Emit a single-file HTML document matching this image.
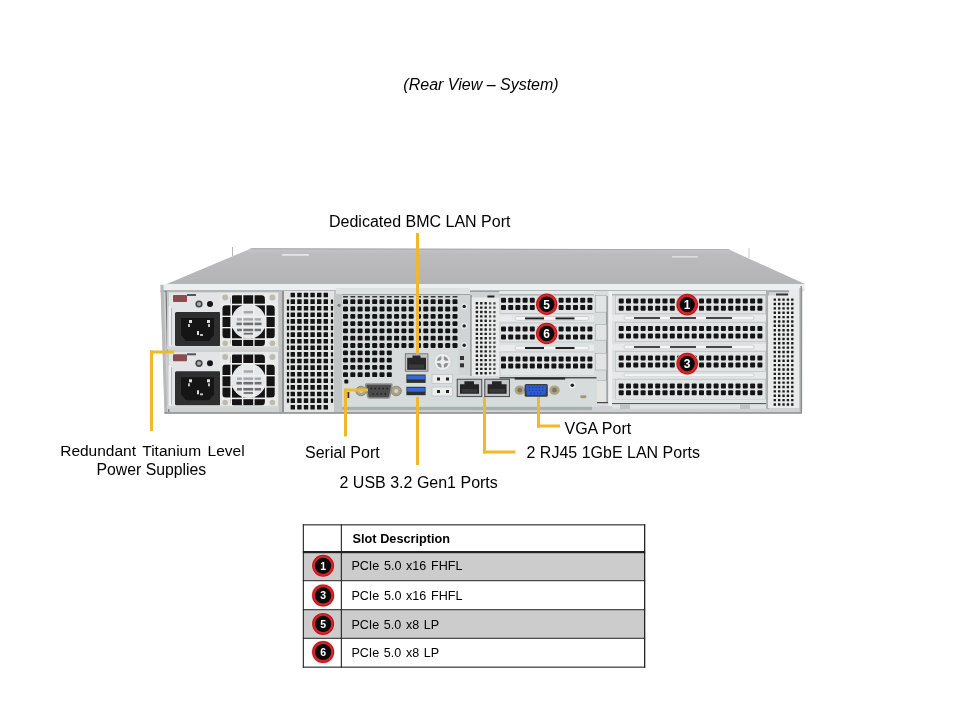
<!DOCTYPE html>
<html><head><meta charset="utf-8"><title>Rear View</title><style>
html,body{margin:0;padding:0;background:#fff;width:960px;height:720px;overflow:hidden}
svg{display:block;position:absolute;left:0;top:0;will-change:transform}
text{font-family:"Liberation Sans",sans-serif;fill:#000}
</style></head><body>
<svg width="960" height="720" viewBox="0 0 960 720">
<defs>
  <linearGradient id="gTop" x1="0" y1="0" x2="0" y2="1">
    <stop offset="0" stop-color="#c4c4c6"/><stop offset="0.18" stop-color="#bbbbbd"/><stop offset="1" stop-color="#b4b4b6"/>
  </linearGradient>
</defs>

<polygon points="251,248.5 729,249.5 805,284 162,286" fill="url(#gTop)"/>
<rect x="232" y="247" width="1" height="9" fill="#b5b5b5"/><rect x="748.5" y="248" width="1" height="10" fill="#c8c8c8"/>
<polygon points="251,248.3 729,249.3 730,250 250,249.3" fill="#a4a4a6"/>
<rect x="282" y="254" width="27" height="1.8" fill="#e4e4e4"/>
<rect x="672" y="256" width="26" height="1.6" fill="#dcdcdc"/>
<polygon points="160.5,285 802.5,285 802,413.6 164.5,413.8" fill="#cfd2d2"/>
<rect x="160.5" y="284" width="644.5" height="6.5" fill="#eceff0"/>
<rect x="160.5" y="290.5" width="644" height="1.2" fill="#8a8c8c"/>
<polygon points="160.5,285 163.5,285 167.3,413.8 164.5,413.8" fill="#b8baba"/>
<polygon points="165.5,291 166.7,291 169.4,412 168.2,412" fill="#777"/>
<g id="psu">
  <rect x="167" y="291.5" width="112" height="58" fill="#c9cbcb"/>
  <rect x="169" y="292.5" width="52" height="55" fill="#e2e4e6"/>
  <rect x="168.6" y="306" width="2.6" height="41" rx="1.2" fill="#f0f1f1"/><rect x="171.2" y="308" width="0.8" height="37" fill="#a5a8a8"/>
  <rect x="173" y="295" width="14" height="7" rx="1" fill="#8c4c4f"/>
  <rect x="187" y="294" width="9" height="2" fill="#555"/>
  <circle cx="199" cy="304" r="3.6" fill="#444"/><circle cx="199" cy="304" r="2" fill="#a9a9a9"/>
  <circle cx="210" cy="304" r="3" fill="#151515"/>
  <rect x="175" y="312" width="45.5" height="34" rx="1.5" fill="#2e2e2e"/>
  <path d="M181,318 H214 V335 L209,341 H186 L181,335 Z" fill="#151515"/>
  <rect x="189" y="320" width="3" height="3" fill="#ddd"/><rect x="188" y="324" width="2" height="3" fill="#bbb"/>
  <rect x="207" y="320" width="3" height="3" fill="#ddd"/><rect x="208" y="324" width="2" height="3" fill="#bbb"/>
  <rect x="197" y="331" width="2" height="4" fill="#ddd"/><rect x="200" y="334" width="3" height="2" fill="#bbb"/>
  <rect x="220" y="292.5" width="58" height="55" fill="#e8e9e9"/>
  <rect x="230.4" y="295.3" width="34.6" height="50.6" rx="3.5" fill="#141414"/>
  <rect x="222.5" y="305" width="52.2" height="33.4" rx="3.5" fill="#141414"/>
  <circle cx="248.6" cy="321.5" r="17.3" fill="#e6e7e9"/>
  <g fill="#a4a7ac"><rect x="243.5" y="311" width="9.5" height="2.4"/><rect x="237" y="318.2" width="24" height="2.4"/></g>
  <g fill="#6d7075"><rect x="236.5" y="322.6" width="25" height="2.6"/><rect x="237" y="328.6" width="24" height="2.6"/><rect x="243.5" y="332.8" width="9.5" height="1.8"/></g>
  <g fill="#f0f0f0">
    <rect x="230.4" y="295" width="1.6" height="51"/>
    <rect x="241.9" y="295" width="1.4" height="51"/>
    <rect x="253.2" y="295" width="1.4" height="51"/>
    <rect x="264.9" y="295" width="1.6" height="51"/>
    <rect x="222" y="303.7" width="53" height="1.6"/>
    <rect x="222" y="315.7" width="53" height="1.3"/>
    <rect x="222" y="327" width="53" height="1.3"/>
    <rect x="222" y="338.3" width="53" height="1.6"/>
  </g>
  <circle cx="225.2" cy="297.6" r="3" fill="#bdbab0"/><circle cx="272.4" cy="297.6" r="3" fill="#bdbab0"/>
  <circle cx="225.2" cy="343.2" r="2.8" fill="#bdbab0"/><circle cx="272.4" cy="343.2" r="2.8" fill="#bdbab0"/>
  <rect x="167" y="346.5" width="112" height="3" fill="#d4d6d6"/>
</g>
<use href="#psu" transform="translate(0,59.3)"/>
<rect x="279" y="291" width="5" height="121" fill="#bfc1c1"/>
<rect x="284" y="291" width="50" height="121" fill="#e2e3e3"/>
<rect x="282" y="291" width="2" height="121" fill="#8f9292"/>
<g fill="#141414"><rect x="290.60" y="292.70" width="4.4" height="4.6" rx="0.5"/><rect x="297.20" y="292.70" width="4.4" height="4.6" rx="0.5"/><rect x="303.80" y="292.70" width="4.4" height="4.6" rx="0.5"/><rect x="310.40" y="292.70" width="4.4" height="4.6" rx="0.5"/><rect x="317.00" y="292.70" width="4.4" height="4.6" rx="0.5"/><rect x="323.60" y="292.70" width="4.4" height="4.6" rx="0.5"/><rect x="290.60" y="299.30" width="4.4" height="4.6" rx="0.5"/><rect x="297.20" y="299.30" width="4.4" height="4.6" rx="0.5"/><rect x="303.80" y="299.30" width="4.4" height="4.6" rx="0.5"/><rect x="310.40" y="299.30" width="4.4" height="4.6" rx="0.5"/><rect x="317.00" y="299.30" width="4.4" height="4.6" rx="0.5"/><rect x="323.60" y="299.30" width="4.4" height="4.6" rx="0.5"/><rect x="290.60" y="305.90" width="4.4" height="4.6" rx="0.5"/><rect x="297.20" y="305.90" width="4.4" height="4.6" rx="0.5"/><rect x="303.80" y="305.90" width="4.4" height="4.6" rx="0.5"/><rect x="310.40" y="305.90" width="4.4" height="4.6" rx="0.5"/><rect x="317.00" y="305.90" width="4.4" height="4.6" rx="0.5"/><rect x="323.60" y="305.90" width="4.4" height="4.6" rx="0.5"/><rect x="290.60" y="312.50" width="4.4" height="4.6" rx="0.5"/><rect x="297.20" y="312.50" width="4.4" height="4.6" rx="0.5"/><rect x="303.80" y="312.50" width="4.4" height="4.6" rx="0.5"/><rect x="310.40" y="312.50" width="4.4" height="4.6" rx="0.5"/><rect x="317.00" y="312.50" width="4.4" height="4.6" rx="0.5"/><rect x="323.60" y="312.50" width="4.4" height="4.6" rx="0.5"/><rect x="290.60" y="319.10" width="4.4" height="4.6" rx="0.5"/><rect x="297.20" y="319.10" width="4.4" height="4.6" rx="0.5"/><rect x="303.80" y="319.10" width="4.4" height="4.6" rx="0.5"/><rect x="310.40" y="319.10" width="4.4" height="4.6" rx="0.5"/><rect x="317.00" y="319.10" width="4.4" height="4.6" rx="0.5"/><rect x="323.60" y="319.10" width="4.4" height="4.6" rx="0.5"/><rect x="290.60" y="325.70" width="4.4" height="4.6" rx="0.5"/><rect x="297.20" y="325.70" width="4.4" height="4.6" rx="0.5"/><rect x="303.80" y="325.70" width="4.4" height="4.6" rx="0.5"/><rect x="310.40" y="325.70" width="4.4" height="4.6" rx="0.5"/><rect x="317.00" y="325.70" width="4.4" height="4.6" rx="0.5"/><rect x="323.60" y="325.70" width="4.4" height="4.6" rx="0.5"/><rect x="290.60" y="332.30" width="4.4" height="4.6" rx="0.5"/><rect x="297.20" y="332.30" width="4.4" height="4.6" rx="0.5"/><rect x="303.80" y="332.30" width="4.4" height="4.6" rx="0.5"/><rect x="310.40" y="332.30" width="4.4" height="4.6" rx="0.5"/><rect x="317.00" y="332.30" width="4.4" height="4.6" rx="0.5"/><rect x="323.60" y="332.30" width="4.4" height="4.6" rx="0.5"/><rect x="290.60" y="338.90" width="4.4" height="4.6" rx="0.5"/><rect x="297.20" y="338.90" width="4.4" height="4.6" rx="0.5"/><rect x="303.80" y="338.90" width="4.4" height="4.6" rx="0.5"/><rect x="310.40" y="338.90" width="4.4" height="4.6" rx="0.5"/><rect x="317.00" y="338.90" width="4.4" height="4.6" rx="0.5"/><rect x="323.60" y="338.90" width="4.4" height="4.6" rx="0.5"/><rect x="290.60" y="345.50" width="4.4" height="4.6" rx="0.5"/><rect x="297.20" y="345.50" width="4.4" height="4.6" rx="0.5"/><rect x="303.80" y="345.50" width="4.4" height="4.6" rx="0.5"/><rect x="310.40" y="345.50" width="4.4" height="4.6" rx="0.5"/><rect x="317.00" y="345.50" width="4.4" height="4.6" rx="0.5"/><rect x="323.60" y="345.50" width="4.4" height="4.6" rx="0.5"/><rect x="290.60" y="352.10" width="4.4" height="4.6" rx="0.5"/><rect x="297.20" y="352.10" width="4.4" height="4.6" rx="0.5"/><rect x="303.80" y="352.10" width="4.4" height="4.6" rx="0.5"/><rect x="310.40" y="352.10" width="4.4" height="4.6" rx="0.5"/><rect x="317.00" y="352.10" width="4.4" height="4.6" rx="0.5"/><rect x="323.60" y="352.10" width="4.4" height="4.6" rx="0.5"/><rect x="290.60" y="358.70" width="4.4" height="4.6" rx="0.5"/><rect x="297.20" y="358.70" width="4.4" height="4.6" rx="0.5"/><rect x="303.80" y="358.70" width="4.4" height="4.6" rx="0.5"/><rect x="310.40" y="358.70" width="4.4" height="4.6" rx="0.5"/><rect x="317.00" y="358.70" width="4.4" height="4.6" rx="0.5"/><rect x="323.60" y="358.70" width="4.4" height="4.6" rx="0.5"/><rect x="290.60" y="365.30" width="4.4" height="4.6" rx="0.5"/><rect x="297.20" y="365.30" width="4.4" height="4.6" rx="0.5"/><rect x="303.80" y="365.30" width="4.4" height="4.6" rx="0.5"/><rect x="310.40" y="365.30" width="4.4" height="4.6" rx="0.5"/><rect x="317.00" y="365.30" width="4.4" height="4.6" rx="0.5"/><rect x="323.60" y="365.30" width="4.4" height="4.6" rx="0.5"/><rect x="290.60" y="371.90" width="4.4" height="4.6" rx="0.5"/><rect x="297.20" y="371.90" width="4.4" height="4.6" rx="0.5"/><rect x="303.80" y="371.90" width="4.4" height="4.6" rx="0.5"/><rect x="310.40" y="371.90" width="4.4" height="4.6" rx="0.5"/><rect x="317.00" y="371.90" width="4.4" height="4.6" rx="0.5"/><rect x="323.60" y="371.90" width="4.4" height="4.6" rx="0.5"/><rect x="290.60" y="378.50" width="4.4" height="4.6" rx="0.5"/><rect x="297.20" y="378.50" width="4.4" height="4.6" rx="0.5"/><rect x="303.80" y="378.50" width="4.4" height="4.6" rx="0.5"/><rect x="310.40" y="378.50" width="4.4" height="4.6" rx="0.5"/><rect x="317.00" y="378.50" width="4.4" height="4.6" rx="0.5"/><rect x="323.60" y="378.50" width="4.4" height="4.6" rx="0.5"/><rect x="290.60" y="385.10" width="4.4" height="4.6" rx="0.5"/><rect x="297.20" y="385.10" width="4.4" height="4.6" rx="0.5"/><rect x="303.80" y="385.10" width="4.4" height="4.6" rx="0.5"/><rect x="310.40" y="385.10" width="4.4" height="4.6" rx="0.5"/><rect x="317.00" y="385.10" width="4.4" height="4.6" rx="0.5"/><rect x="323.60" y="385.10" width="4.4" height="4.6" rx="0.5"/><rect x="290.60" y="391.70" width="4.4" height="4.6" rx="0.5"/><rect x="297.20" y="391.70" width="4.4" height="4.6" rx="0.5"/><rect x="303.80" y="391.70" width="4.4" height="4.6" rx="0.5"/><rect x="310.40" y="391.70" width="4.4" height="4.6" rx="0.5"/><rect x="317.00" y="391.70" width="4.4" height="4.6" rx="0.5"/><rect x="323.60" y="391.70" width="4.4" height="4.6" rx="0.5"/><rect x="290.60" y="398.30" width="4.4" height="4.6" rx="0.5"/><rect x="297.20" y="398.30" width="4.4" height="4.6" rx="0.5"/><rect x="303.80" y="398.30" width="4.4" height="4.6" rx="0.5"/><rect x="310.40" y="398.30" width="4.4" height="4.6" rx="0.5"/><rect x="317.00" y="398.30" width="4.4" height="4.6" rx="0.5"/><rect x="323.60" y="398.30" width="4.4" height="4.6" rx="0.5"/><rect x="290.60" y="404.90" width="4.4" height="4.6" rx="0.5"/><rect x="297.20" y="404.90" width="4.4" height="4.6" rx="0.5"/><rect x="303.80" y="404.90" width="4.4" height="4.6" rx="0.5"/><rect x="310.40" y="404.90" width="4.4" height="4.6" rx="0.5"/><rect x="317.00" y="404.90" width="4.4" height="4.6" rx="0.5"/><rect x="323.60" y="404.90" width="4.4" height="4.6" rx="0.5"/></g>
<g fill="#141414"><rect x="286.90" y="299.40" width="2.2" height="4.4" rx="0.5"/><rect x="286.90" y="306.00" width="2.2" height="4.4" rx="0.5"/><rect x="286.90" y="312.60" width="2.2" height="4.4" rx="0.5"/><rect x="286.90" y="319.20" width="2.2" height="4.4" rx="0.5"/><rect x="286.90" y="325.80" width="2.2" height="4.4" rx="0.5"/><rect x="286.90" y="332.40" width="2.2" height="4.4" rx="0.5"/><rect x="286.90" y="339.00" width="2.2" height="4.4" rx="0.5"/><rect x="286.90" y="345.60" width="2.2" height="4.4" rx="0.5"/><rect x="286.90" y="352.20" width="2.2" height="4.4" rx="0.5"/><rect x="286.90" y="358.80" width="2.2" height="4.4" rx="0.5"/><rect x="286.90" y="365.40" width="2.2" height="4.4" rx="0.5"/><rect x="286.90" y="372.00" width="2.2" height="4.4" rx="0.5"/><rect x="286.90" y="378.60" width="2.2" height="4.4" rx="0.5"/><rect x="286.90" y="385.20" width="2.2" height="4.4" rx="0.5"/><rect x="286.90" y="391.80" width="2.2" height="4.4" rx="0.5"/><rect x="286.90" y="398.40" width="2.2" height="4.4" rx="0.5"/></g>
<g fill="#141414"><rect x="330.90" y="299.40" width="2.2" height="4.4" rx="0.5"/><rect x="330.90" y="306.00" width="2.2" height="4.4" rx="0.5"/><rect x="330.90" y="312.60" width="2.2" height="4.4" rx="0.5"/><rect x="330.90" y="319.20" width="2.2" height="4.4" rx="0.5"/><rect x="330.90" y="325.80" width="2.2" height="4.4" rx="0.5"/><rect x="330.90" y="332.40" width="2.2" height="4.4" rx="0.5"/><rect x="330.90" y="339.00" width="2.2" height="4.4" rx="0.5"/><rect x="330.90" y="345.60" width="2.2" height="4.4" rx="0.5"/><rect x="330.90" y="352.20" width="2.2" height="4.4" rx="0.5"/><rect x="330.90" y="358.80" width="2.2" height="4.4" rx="0.5"/><rect x="330.90" y="365.40" width="2.2" height="4.4" rx="0.5"/><rect x="330.90" y="372.00" width="2.2" height="4.4" rx="0.5"/><rect x="330.90" y="378.60" width="2.2" height="4.4" rx="0.5"/><rect x="330.90" y="385.20" width="2.2" height="4.4" rx="0.5"/><rect x="330.90" y="391.80" width="2.2" height="4.4" rx="0.5"/><rect x="330.90" y="398.40" width="2.2" height="4.4" rx="0.5"/></g>
<rect x="334" y="291" width="8" height="121" fill="#c2c5c5"/>
<rect x="342" y="291" width="128" height="120" fill="#d6dcdb"/>
<rect x="336" y="288" width="134" height="6" fill="#dde1e1"/>
<rect x="342" y="294" width="128" height="1.2" fill="#9da1a1"/>
<g fill="#333"><rect x="343.00" y="296.00" width="5" height="1.6" rx="0.5"/><rect x="350.30" y="296.00" width="5" height="1.6" rx="0.5"/><rect x="357.60" y="296.00" width="5" height="1.6" rx="0.5"/><rect x="364.90" y="296.00" width="5" height="1.6" rx="0.5"/><rect x="372.20" y="296.00" width="5" height="1.6" rx="0.5"/><rect x="379.50" y="296.00" width="5" height="1.6" rx="0.5"/><rect x="386.80" y="296.00" width="5" height="1.6" rx="0.5"/><rect x="394.10" y="296.00" width="5" height="1.6" rx="0.5"/><rect x="401.40" y="296.00" width="5" height="1.6" rx="0.5"/><rect x="408.70" y="296.00" width="5" height="1.6" rx="0.5"/><rect x="416.00" y="296.00" width="5" height="1.6" rx="0.5"/><rect x="423.30" y="296.00" width="5" height="1.6" rx="0.5"/><rect x="430.60" y="296.00" width="5" height="1.6" rx="0.5"/><rect x="437.90" y="296.00" width="5" height="1.6" rx="0.5"/><rect x="445.20" y="296.00" width="5" height="1.6" rx="0.5"/><rect x="452.50" y="296.00" width="5" height="1.6" rx="0.5"/></g>
<g fill="#141414"><rect x="343.00" y="299.30" width="5" height="4.8" rx="1.2"/><rect x="350.30" y="299.30" width="5" height="4.8" rx="1.2"/><rect x="357.60" y="299.30" width="5" height="4.8" rx="1.2"/><rect x="364.90" y="299.30" width="5" height="4.8" rx="1.2"/><rect x="372.20" y="299.30" width="5" height="4.8" rx="1.2"/><rect x="379.50" y="299.30" width="5" height="4.8" rx="1.2"/><rect x="386.80" y="299.30" width="5" height="4.8" rx="1.2"/><rect x="394.10" y="299.30" width="5" height="4.8" rx="1.2"/><rect x="401.40" y="299.30" width="5" height="4.8" rx="1.2"/><rect x="408.70" y="299.30" width="5" height="4.8" rx="1.2"/><rect x="416.00" y="299.30" width="5" height="4.8" rx="1.2"/><rect x="423.30" y="299.30" width="5" height="4.8" rx="1.2"/><rect x="430.60" y="299.30" width="5" height="4.8" rx="1.2"/><rect x="437.90" y="299.30" width="5" height="4.8" rx="1.2"/><rect x="445.20" y="299.30" width="5" height="4.8" rx="1.2"/><rect x="452.50" y="299.30" width="5" height="4.8" rx="1.2"/><rect x="343.00" y="306.60" width="5" height="4.8" rx="1.2"/><rect x="350.30" y="306.60" width="5" height="4.8" rx="1.2"/><rect x="357.60" y="306.60" width="5" height="4.8" rx="1.2"/><rect x="364.90" y="306.60" width="5" height="4.8" rx="1.2"/><rect x="372.20" y="306.60" width="5" height="4.8" rx="1.2"/><rect x="379.50" y="306.60" width="5" height="4.8" rx="1.2"/><rect x="386.80" y="306.60" width="5" height="4.8" rx="1.2"/><rect x="394.10" y="306.60" width="5" height="4.8" rx="1.2"/><rect x="401.40" y="306.60" width="5" height="4.8" rx="1.2"/><rect x="408.70" y="306.60" width="5" height="4.8" rx="1.2"/><rect x="416.00" y="306.60" width="5" height="4.8" rx="1.2"/><rect x="423.30" y="306.60" width="5" height="4.8" rx="1.2"/><rect x="430.60" y="306.60" width="5" height="4.8" rx="1.2"/><rect x="437.90" y="306.60" width="5" height="4.8" rx="1.2"/><rect x="445.20" y="306.60" width="5" height="4.8" rx="1.2"/><rect x="452.50" y="306.60" width="5" height="4.8" rx="1.2"/><rect x="343.00" y="313.90" width="5" height="4.8" rx="1.2"/><rect x="350.30" y="313.90" width="5" height="4.8" rx="1.2"/><rect x="357.60" y="313.90" width="5" height="4.8" rx="1.2"/><rect x="364.90" y="313.90" width="5" height="4.8" rx="1.2"/><rect x="372.20" y="313.90" width="5" height="4.8" rx="1.2"/><rect x="379.50" y="313.90" width="5" height="4.8" rx="1.2"/><rect x="386.80" y="313.90" width="5" height="4.8" rx="1.2"/><rect x="394.10" y="313.90" width="5" height="4.8" rx="1.2"/><rect x="401.40" y="313.90" width="5" height="4.8" rx="1.2"/><rect x="408.70" y="313.90" width="5" height="4.8" rx="1.2"/><rect x="416.00" y="313.90" width="5" height="4.8" rx="1.2"/><rect x="423.30" y="313.90" width="5" height="4.8" rx="1.2"/><rect x="430.60" y="313.90" width="5" height="4.8" rx="1.2"/><rect x="437.90" y="313.90" width="5" height="4.8" rx="1.2"/><rect x="445.20" y="313.90" width="5" height="4.8" rx="1.2"/><rect x="452.50" y="313.90" width="5" height="4.8" rx="1.2"/><rect x="343.00" y="321.20" width="5" height="4.8" rx="1.2"/><rect x="350.30" y="321.20" width="5" height="4.8" rx="1.2"/><rect x="357.60" y="321.20" width="5" height="4.8" rx="1.2"/><rect x="364.90" y="321.20" width="5" height="4.8" rx="1.2"/><rect x="372.20" y="321.20" width="5" height="4.8" rx="1.2"/><rect x="379.50" y="321.20" width="5" height="4.8" rx="1.2"/><rect x="386.80" y="321.20" width="5" height="4.8" rx="1.2"/><rect x="394.10" y="321.20" width="5" height="4.8" rx="1.2"/><rect x="401.40" y="321.20" width="5" height="4.8" rx="1.2"/><rect x="408.70" y="321.20" width="5" height="4.8" rx="1.2"/><rect x="416.00" y="321.20" width="5" height="4.8" rx="1.2"/><rect x="423.30" y="321.20" width="5" height="4.8" rx="1.2"/><rect x="430.60" y="321.20" width="5" height="4.8" rx="1.2"/><rect x="437.90" y="321.20" width="5" height="4.8" rx="1.2"/><rect x="445.20" y="321.20" width="5" height="4.8" rx="1.2"/><rect x="452.50" y="321.20" width="5" height="4.8" rx="1.2"/><rect x="343.00" y="328.50" width="5" height="4.8" rx="1.2"/><rect x="350.30" y="328.50" width="5" height="4.8" rx="1.2"/><rect x="357.60" y="328.50" width="5" height="4.8" rx="1.2"/><rect x="364.90" y="328.50" width="5" height="4.8" rx="1.2"/><rect x="372.20" y="328.50" width="5" height="4.8" rx="1.2"/><rect x="379.50" y="328.50" width="5" height="4.8" rx="1.2"/><rect x="386.80" y="328.50" width="5" height="4.8" rx="1.2"/><rect x="394.10" y="328.50" width="5" height="4.8" rx="1.2"/><rect x="401.40" y="328.50" width="5" height="4.8" rx="1.2"/><rect x="408.70" y="328.50" width="5" height="4.8" rx="1.2"/><rect x="416.00" y="328.50" width="5" height="4.8" rx="1.2"/><rect x="423.30" y="328.50" width="5" height="4.8" rx="1.2"/><rect x="430.60" y="328.50" width="5" height="4.8" rx="1.2"/><rect x="437.90" y="328.50" width="5" height="4.8" rx="1.2"/><rect x="445.20" y="328.50" width="5" height="4.8" rx="1.2"/><rect x="452.50" y="328.50" width="5" height="4.8" rx="1.2"/><rect x="343.00" y="335.80" width="5" height="4.8" rx="1.2"/><rect x="350.30" y="335.80" width="5" height="4.8" rx="1.2"/><rect x="357.60" y="335.80" width="5" height="4.8" rx="1.2"/><rect x="364.90" y="335.80" width="5" height="4.8" rx="1.2"/><rect x="372.20" y="335.80" width="5" height="4.8" rx="1.2"/><rect x="379.50" y="335.80" width="5" height="4.8" rx="1.2"/><rect x="386.80" y="335.80" width="5" height="4.8" rx="1.2"/><rect x="394.10" y="335.80" width="5" height="4.8" rx="1.2"/><rect x="401.40" y="335.80" width="5" height="4.8" rx="1.2"/><rect x="408.70" y="335.80" width="5" height="4.8" rx="1.2"/><rect x="416.00" y="335.80" width="5" height="4.8" rx="1.2"/><rect x="423.30" y="335.80" width="5" height="4.8" rx="1.2"/><rect x="430.60" y="335.80" width="5" height="4.8" rx="1.2"/><rect x="437.90" y="335.80" width="5" height="4.8" rx="1.2"/><rect x="445.20" y="335.80" width="5" height="4.8" rx="1.2"/><rect x="452.50" y="335.80" width="5" height="4.8" rx="1.2"/><rect x="343.00" y="343.10" width="5" height="4.8" rx="1.2"/><rect x="350.30" y="343.10" width="5" height="4.8" rx="1.2"/><rect x="357.60" y="343.10" width="5" height="4.8" rx="1.2"/><rect x="364.90" y="343.10" width="5" height="4.8" rx="1.2"/><rect x="372.20" y="343.10" width="5" height="4.8" rx="1.2"/><rect x="379.50" y="343.10" width="5" height="4.8" rx="1.2"/><rect x="386.80" y="343.10" width="5" height="4.8" rx="1.2"/><rect x="394.10" y="343.10" width="5" height="4.8" rx="1.2"/><rect x="401.40" y="343.10" width="5" height="4.8" rx="1.2"/><rect x="408.70" y="343.10" width="5" height="4.8" rx="1.2"/><rect x="416.00" y="343.10" width="5" height="4.8" rx="1.2"/><rect x="423.30" y="343.10" width="5" height="4.8" rx="1.2"/><rect x="430.60" y="343.10" width="5" height="4.8" rx="1.2"/><rect x="437.90" y="343.10" width="5" height="4.8" rx="1.2"/><rect x="445.20" y="343.10" width="5" height="4.8" rx="1.2"/><rect x="452.50" y="343.10" width="5" height="4.8" rx="1.2"/></g>
<g fill="#141414"><rect x="343.00" y="350.40" width="5" height="4.8" rx="1.2"/><rect x="350.30" y="350.40" width="5" height="4.8" rx="1.2"/><rect x="357.60" y="350.40" width="5" height="4.8" rx="1.2"/><rect x="364.90" y="350.40" width="5" height="4.8" rx="1.2"/><rect x="372.20" y="350.40" width="5" height="4.8" rx="1.2"/><rect x="379.50" y="350.40" width="5" height="4.8" rx="1.2"/><rect x="386.80" y="350.40" width="5" height="4.8" rx="1.2"/><rect x="343.00" y="357.70" width="5" height="4.8" rx="1.2"/><rect x="350.30" y="357.70" width="5" height="4.8" rx="1.2"/><rect x="357.60" y="357.70" width="5" height="4.8" rx="1.2"/><rect x="364.90" y="357.70" width="5" height="4.8" rx="1.2"/><rect x="372.20" y="357.70" width="5" height="4.8" rx="1.2"/><rect x="379.50" y="357.70" width="5" height="4.8" rx="1.2"/><rect x="386.80" y="357.70" width="5" height="4.8" rx="1.2"/><rect x="343.00" y="365.00" width="5" height="4.8" rx="1.2"/><rect x="350.30" y="365.00" width="5" height="4.8" rx="1.2"/><rect x="357.60" y="365.00" width="5" height="4.8" rx="1.2"/><rect x="364.90" y="365.00" width="5" height="4.8" rx="1.2"/><rect x="372.20" y="365.00" width="5" height="4.8" rx="1.2"/><rect x="379.50" y="365.00" width="5" height="4.8" rx="1.2"/><rect x="386.80" y="365.00" width="5" height="4.8" rx="1.2"/><rect x="343.00" y="372.30" width="5" height="4.8" rx="1.2"/><rect x="350.30" y="372.30" width="5" height="4.8" rx="1.2"/><rect x="357.60" y="372.30" width="5" height="4.8" rx="1.2"/><rect x="364.90" y="372.30" width="5" height="4.8" rx="1.2"/><rect x="372.20" y="372.30" width="5" height="4.8" rx="1.2"/><rect x="379.50" y="372.30" width="5" height="4.8" rx="1.2"/><rect x="386.80" y="372.30" width="5" height="4.8" rx="1.2"/></g>
<g fill="#141414"><rect x="344.30" y="379.50" width="4" height="4" rx="1"/></g>
<circle cx="339" cy="305.3" r="1.5" fill="#777"/>
<rect x="458.4" y="295" width="12" height="80" fill="#d0d4d4"/>
<circle cx="464.2" cy="306.4" r="3.2" fill="#e3e6e6"/><circle cx="464.2" cy="306.4" r="1.7" fill="#222"/>
<circle cx="464.2" cy="325.9" r="3.2" fill="#e3e6e6"/><circle cx="464.2" cy="325.9" r="1.7" fill="#222"/>
<circle cx="464.2" cy="345.3" r="3.2" fill="#e3e6e6"/><circle cx="464.2" cy="345.3" r="1.7" fill="#222"/>
<rect x="470.4" y="295" width="1.3" height="82" fill="#888"/>
<rect x="460" y="356" width="4" height="4" fill="#333"/><rect x="460" y="363.3" width="4" height="4" fill="#333"/>
<rect x="471.7" y="297.5" width="28.3" height="80.5" fill="#e9ebeb"/>
<rect x="487.4" y="295.5" width="7" height="2" fill="#222"/>
<g fill="#1c1c1c"><rect x="475.70" y="302.10" width="2.4" height="2.4" rx="0.3"/><rect x="480.10" y="302.10" width="2.4" height="2.4" rx="0.3"/><rect x="484.50" y="302.10" width="2.4" height="2.4" rx="0.3"/><rect x="475.70" y="306.47" width="2.4" height="2.4" rx="0.3"/><rect x="480.10" y="306.47" width="2.4" height="2.4" rx="0.3"/><rect x="484.50" y="306.47" width="2.4" height="2.4" rx="0.3"/><rect x="475.70" y="310.84" width="2.4" height="2.4" rx="0.3"/><rect x="480.10" y="310.84" width="2.4" height="2.4" rx="0.3"/><rect x="484.50" y="310.84" width="2.4" height="2.4" rx="0.3"/><rect x="475.70" y="315.21" width="2.4" height="2.4" rx="0.3"/><rect x="480.10" y="315.21" width="2.4" height="2.4" rx="0.3"/><rect x="484.50" y="315.21" width="2.4" height="2.4" rx="0.3"/><rect x="475.70" y="319.58" width="2.4" height="2.4" rx="0.3"/><rect x="480.10" y="319.58" width="2.4" height="2.4" rx="0.3"/><rect x="484.50" y="319.58" width="2.4" height="2.4" rx="0.3"/><rect x="475.70" y="323.95" width="2.4" height="2.4" rx="0.3"/><rect x="480.10" y="323.95" width="2.4" height="2.4" rx="0.3"/><rect x="484.50" y="323.95" width="2.4" height="2.4" rx="0.3"/><rect x="475.70" y="328.32" width="2.4" height="2.4" rx="0.3"/><rect x="480.10" y="328.32" width="2.4" height="2.4" rx="0.3"/><rect x="484.50" y="328.32" width="2.4" height="2.4" rx="0.3"/><rect x="475.70" y="332.69" width="2.4" height="2.4" rx="0.3"/><rect x="480.10" y="332.69" width="2.4" height="2.4" rx="0.3"/><rect x="484.50" y="332.69" width="2.4" height="2.4" rx="0.3"/><rect x="475.70" y="337.06" width="2.4" height="2.4" rx="0.3"/><rect x="480.10" y="337.06" width="2.4" height="2.4" rx="0.3"/><rect x="484.50" y="337.06" width="2.4" height="2.4" rx="0.3"/><rect x="475.70" y="341.43" width="2.4" height="2.4" rx="0.3"/><rect x="480.10" y="341.43" width="2.4" height="2.4" rx="0.3"/><rect x="484.50" y="341.43" width="2.4" height="2.4" rx="0.3"/><rect x="475.70" y="345.80" width="2.4" height="2.4" rx="0.3"/><rect x="480.10" y="345.80" width="2.4" height="2.4" rx="0.3"/><rect x="484.50" y="345.80" width="2.4" height="2.4" rx="0.3"/><rect x="475.70" y="350.17" width="2.4" height="2.4" rx="0.3"/><rect x="480.10" y="350.17" width="2.4" height="2.4" rx="0.3"/><rect x="484.50" y="350.17" width="2.4" height="2.4" rx="0.3"/><rect x="475.70" y="354.54" width="2.4" height="2.4" rx="0.3"/><rect x="480.10" y="354.54" width="2.4" height="2.4" rx="0.3"/><rect x="484.50" y="354.54" width="2.4" height="2.4" rx="0.3"/><rect x="475.70" y="358.91" width="2.4" height="2.4" rx="0.3"/><rect x="480.10" y="358.91" width="2.4" height="2.4" rx="0.3"/><rect x="484.50" y="358.91" width="2.4" height="2.4" rx="0.3"/><rect x="475.70" y="363.28" width="2.4" height="2.4" rx="0.3"/><rect x="480.10" y="363.28" width="2.4" height="2.4" rx="0.3"/><rect x="484.50" y="363.28" width="2.4" height="2.4" rx="0.3"/><rect x="475.70" y="367.65" width="2.4" height="2.4" rx="0.3"/><rect x="480.10" y="367.65" width="2.4" height="2.4" rx="0.3"/><rect x="484.50" y="367.65" width="2.4" height="2.4" rx="0.3"/><rect x="475.70" y="372.02" width="2.4" height="2.4" rx="0.3"/><rect x="480.10" y="372.02" width="2.4" height="2.4" rx="0.3"/><rect x="484.50" y="372.02" width="2.4" height="2.4" rx="0.3"/></g>
<g fill="#4a4a4a"><rect x="488.95" y="302.15" width="2.3" height="2.3" rx="0.3"/><rect x="493.25" y="302.15" width="2.3" height="2.3" rx="0.3"/><rect x="488.95" y="306.52" width="2.3" height="2.3" rx="0.3"/><rect x="493.25" y="306.52" width="2.3" height="2.3" rx="0.3"/><rect x="488.95" y="310.89" width="2.3" height="2.3" rx="0.3"/><rect x="493.25" y="310.89" width="2.3" height="2.3" rx="0.3"/><rect x="488.95" y="315.26" width="2.3" height="2.3" rx="0.3"/><rect x="493.25" y="315.26" width="2.3" height="2.3" rx="0.3"/><rect x="488.95" y="319.63" width="2.3" height="2.3" rx="0.3"/><rect x="493.25" y="319.63" width="2.3" height="2.3" rx="0.3"/><rect x="488.95" y="324.00" width="2.3" height="2.3" rx="0.3"/><rect x="493.25" y="324.00" width="2.3" height="2.3" rx="0.3"/><rect x="488.95" y="328.37" width="2.3" height="2.3" rx="0.3"/><rect x="493.25" y="328.37" width="2.3" height="2.3" rx="0.3"/><rect x="488.95" y="332.74" width="2.3" height="2.3" rx="0.3"/><rect x="493.25" y="332.74" width="2.3" height="2.3" rx="0.3"/><rect x="488.95" y="337.11" width="2.3" height="2.3" rx="0.3"/><rect x="493.25" y="337.11" width="2.3" height="2.3" rx="0.3"/><rect x="488.95" y="341.48" width="2.3" height="2.3" rx="0.3"/><rect x="493.25" y="341.48" width="2.3" height="2.3" rx="0.3"/><rect x="488.95" y="345.85" width="2.3" height="2.3" rx="0.3"/><rect x="493.25" y="345.85" width="2.3" height="2.3" rx="0.3"/><rect x="488.95" y="350.22" width="2.3" height="2.3" rx="0.3"/><rect x="493.25" y="350.22" width="2.3" height="2.3" rx="0.3"/><rect x="488.95" y="354.59" width="2.3" height="2.3" rx="0.3"/><rect x="493.25" y="354.59" width="2.3" height="2.3" rx="0.3"/><rect x="488.95" y="358.96" width="2.3" height="2.3" rx="0.3"/><rect x="493.25" y="358.96" width="2.3" height="2.3" rx="0.3"/><rect x="488.95" y="363.33" width="2.3" height="2.3" rx="0.3"/><rect x="493.25" y="363.33" width="2.3" height="2.3" rx="0.3"/><rect x="488.95" y="367.70" width="2.3" height="2.3" rx="0.3"/><rect x="493.25" y="367.70" width="2.3" height="2.3" rx="0.3"/><rect x="488.95" y="372.07" width="2.3" height="2.3" rx="0.3"/><rect x="493.25" y="372.07" width="2.3" height="2.3" rx="0.3"/></g>
<rect x="405.3" y="353.8" width="22.6" height="17.4" fill="#bfc3c3" stroke="#666" stroke-width="0.8"/>
<path d="M407.2,357.8 H412.5 V355.6 H420.5 V357.8 H426 V369.8 H407.2 Z" fill="#262626"/>
<rect x="409" y="364.5" width="15" height="4" fill="#3a3a3a"/>
<rect x="406.4" y="374.5" width="19.2" height="8.4" fill="#2f2f2f"/>
<rect x="407.2" y="375.4" width="17.6" height="4" fill="#2f6ad8"/>
<rect x="406.4" y="386.8" width="19.2" height="8.4" fill="#2f2f2f"/>
<rect x="407.2" y="387.7" width="17.6" height="4" fill="#2f6ad8"/>
<circle cx="442.6" cy="361.9" r="8.6" fill="#eceeee" stroke="#c4c8c8" stroke-width="0.6"/>
<circle cx="442.6" cy="361.9" r="6" fill="#8e9292"/>
<rect x="441.4" y="355" width="2.4" height="14" fill="#eceeee"/><rect x="435.7" y="360.7" width="14" height="2.4" fill="#eceeee"/>
<circle cx="442.6" cy="361.9" r="2.6" fill="#eceeee"/>
<rect x="432" y="374.5" width="20.4" height="9" fill="#eceded" stroke="#b5b8b8" stroke-width="0.6"/>
<rect x="437" y="377.5" width="3" height="3" fill="#222"/><rect x="446" y="377.5" width="3" height="3" fill="#222"/>
<rect x="432" y="387" width="20.4" height="9" fill="#eceded" stroke="#b5b8b8" stroke-width="0.6"/>
<rect x="437" y="390" width="3" height="3" fill="#222"/><rect x="446" y="390" width="3" height="3" fill="#222"/>
<ellipse cx="361" cy="391" rx="5.2" ry="4.8" fill="#aaa48c" stroke="#6d6a5c" stroke-width="0.6"/><ellipse cx="396.2" cy="391" rx="5.2" ry="4.8" fill="#aaa48c" stroke="#6d6a5c" stroke-width="0.6"/>
<circle cx="361" cy="391" r="2" fill="#d8d4c0"/><circle cx="396.2" cy="391" r="2" fill="#d8d4c0"/>
<path d="M366.5,383.2 H391 Q393,383.2 392.6,385.4 L390.4,397 Q390,398.8 388,398.8 H369.5 Q367.5,398.8 367.1,397 L364.9,385.4 Q364.5,383.2 366.5,383.2 Z" fill="#8e8e8e"/>
<path d="M367.3,384.8 H390.2 Q391.3,384.8 391,386 L389,396 Q388.7,397.3 387.5,397.3 H370 Q368.8,397.3 368.5,396 L366.5,386 Q366.2,384.8 367.3,384.8 Z" fill="#4b4b4b"/>
<g fill="#222"><rect x="370.35" y="387.55" width="1.7" height="1.7" rx="0.85"/><rect x="374.35" y="387.55" width="1.7" height="1.7" rx="0.85"/><rect x="378.35" y="387.55" width="1.7" height="1.7" rx="0.85"/><rect x="382.35" y="387.55" width="1.7" height="1.7" rx="0.85"/><rect x="386.35" y="387.55" width="1.7" height="1.7" rx="0.85"/></g>
<g fill="#222"><rect x="372.35" y="392.95" width="1.7" height="1.7" rx="0.85"/><rect x="376.35" y="392.95" width="1.7" height="1.7" rx="0.85"/><rect x="380.35" y="392.95" width="1.7" height="1.7" rx="0.85"/><rect x="384.35" y="392.95" width="1.7" height="1.7" rx="0.85"/></g>
<rect x="347.5" y="392" width="1.8" height="6" fill="#333"/>
<rect x="499.5" y="291" width="113" height="88" fill="#dde0e0"/>
<rect x="499.5" y="291" width="96" height="3.5" fill="#e6e9e9"/><rect x="499.5" y="294.3" width="96" height="1" fill="#9ea1a1"/>
<rect x="500" y="295.3" width="95" height="18" fill="#e1e4e4" stroke="#b8bbbb" stroke-width="0.6"/>
<rect x="500" y="323" width="95" height="19" fill="#e1e4e4" stroke="#b8bbbb" stroke-width="0.6"/>
<rect x="500" y="352" width="95" height="24" fill="#e1e4e4" stroke="#b8bbbb" stroke-width="0.6"/>
<g fill="#141414"><rect x="501.00" y="297.80" width="5" height="5" rx="1"/><rect x="508.20" y="297.80" width="5" height="5" rx="1"/><rect x="515.40" y="297.80" width="5" height="5" rx="1"/><rect x="522.60" y="297.80" width="5" height="5" rx="1"/><rect x="529.80" y="297.80" width="5" height="5" rx="1"/><rect x="537.00" y="297.80" width="5" height="5" rx="1"/><rect x="544.20" y="297.80" width="5" height="5" rx="1"/><rect x="551.40" y="297.80" width="5" height="5" rx="1"/><rect x="558.60" y="297.80" width="5" height="5" rx="1"/><rect x="565.80" y="297.80" width="5" height="5" rx="1"/><rect x="573.00" y="297.80" width="5" height="5" rx="1"/><rect x="580.20" y="297.80" width="5" height="5" rx="1"/><rect x="587.40" y="297.80" width="5" height="5" rx="1"/></g>
<g fill="#141414"><rect x="501.00" y="305.10" width="5" height="5" rx="1"/><rect x="508.20" y="305.10" width="5" height="5" rx="1"/><rect x="515.40" y="305.10" width="5" height="5" rx="1"/><rect x="522.60" y="305.10" width="5" height="5" rx="1"/><rect x="529.80" y="305.10" width="5" height="5" rx="1"/><rect x="537.00" y="305.10" width="5" height="5" rx="1"/><rect x="544.20" y="305.10" width="5" height="5" rx="1"/><rect x="551.40" y="305.10" width="5" height="5" rx="1"/><rect x="558.60" y="305.10" width="5" height="5" rx="1"/><rect x="565.80" y="305.10" width="5" height="5" rx="1"/><rect x="573.00" y="305.10" width="5" height="5" rx="1"/><rect x="580.20" y="305.10" width="5" height="5" rx="1"/><rect x="587.40" y="305.10" width="5" height="5" rx="1"/></g>
<g fill="#141414"><rect x="501.00" y="326.50" width="5" height="5" rx="1"/><rect x="508.20" y="326.50" width="5" height="5" rx="1"/><rect x="515.40" y="326.50" width="5" height="5" rx="1"/><rect x="522.60" y="326.50" width="5" height="5" rx="1"/><rect x="529.80" y="326.50" width="5" height="5" rx="1"/><rect x="537.00" y="326.50" width="5" height="5" rx="1"/><rect x="544.20" y="326.50" width="5" height="5" rx="1"/><rect x="551.40" y="326.50" width="5" height="5" rx="1"/><rect x="558.60" y="326.50" width="5" height="5" rx="1"/><rect x="565.80" y="326.50" width="5" height="5" rx="1"/><rect x="573.00" y="326.50" width="5" height="5" rx="1"/><rect x="580.20" y="326.50" width="5" height="5" rx="1"/><rect x="587.40" y="326.50" width="5" height="5" rx="1"/></g>
<g fill="#141414"><rect x="501.00" y="334.50" width="5" height="5" rx="1"/><rect x="508.20" y="334.50" width="5" height="5" rx="1"/><rect x="515.40" y="334.50" width="5" height="5" rx="1"/><rect x="522.60" y="334.50" width="5" height="5" rx="1"/><rect x="529.80" y="334.50" width="5" height="5" rx="1"/><rect x="537.00" y="334.50" width="5" height="5" rx="1"/><rect x="544.20" y="334.50" width="5" height="5" rx="1"/><rect x="551.40" y="334.50" width="5" height="5" rx="1"/><rect x="558.60" y="334.50" width="5" height="5" rx="1"/><rect x="565.80" y="334.50" width="5" height="5" rx="1"/><rect x="573.00" y="334.50" width="5" height="5" rx="1"/><rect x="580.20" y="334.50" width="5" height="5" rx="1"/><rect x="587.40" y="334.50" width="5" height="5" rx="1"/></g>
<g fill="#141414"><rect x="501.00" y="356.50" width="5" height="5" rx="1"/><rect x="508.20" y="356.50" width="5" height="5" rx="1"/><rect x="515.40" y="356.50" width="5" height="5" rx="1"/><rect x="522.60" y="356.50" width="5" height="5" rx="1"/><rect x="529.80" y="356.50" width="5" height="5" rx="1"/><rect x="537.00" y="356.50" width="5" height="5" rx="1"/><rect x="544.20" y="356.50" width="5" height="5" rx="1"/><rect x="551.40" y="356.50" width="5" height="5" rx="1"/><rect x="558.60" y="356.50" width="5" height="5" rx="1"/><rect x="565.80" y="356.50" width="5" height="5" rx="1"/><rect x="573.00" y="356.50" width="5" height="5" rx="1"/><rect x="580.20" y="356.50" width="5" height="5" rx="1"/><rect x="587.40" y="356.50" width="5" height="5" rx="1"/></g>
<g fill="#141414"><rect x="501.00" y="363.50" width="5" height="5" rx="1"/><rect x="508.20" y="363.50" width="5" height="5" rx="1"/><rect x="515.40" y="363.50" width="5" height="5" rx="1"/><rect x="522.60" y="363.50" width="5" height="5" rx="1"/><rect x="529.80" y="363.50" width="5" height="5" rx="1"/><rect x="537.00" y="363.50" width="5" height="5" rx="1"/><rect x="544.20" y="363.50" width="5" height="5" rx="1"/><rect x="551.40" y="363.50" width="5" height="5" rx="1"/><rect x="558.60" y="363.50" width="5" height="5" rx="1"/><rect x="565.80" y="363.50" width="5" height="5" rx="1"/><rect x="573.00" y="363.50" width="5" height="5" rx="1"/><rect x="580.20" y="363.50" width="5" height="5" rx="1"/><rect x="587.40" y="363.50" width="5" height="5" rx="1"/></g>
<rect x="500" y="315.4" width="95" height="6" fill="#e9ebeb"/>
<rect x="515" y="316.5" width="74" height="3.8" rx="1.9" fill="#f6f6f6" stroke="#b5b8b8" stroke-width="0.6"/>
<rect x="525" y="317.4" width="19" height="2" fill="#222"/><rect x="555.5" y="317.4" width="19" height="2" fill="#222"/>
<rect x="500" y="345" width="95" height="6" fill="#e9ebeb"/>
<rect x="515" y="346.1" width="74" height="3.8" rx="1.9" fill="#f6f6f6" stroke="#b5b8b8" stroke-width="0.6"/>
<rect x="525" y="347" width="19" height="2" fill="#222"/><rect x="555.5" y="347" width="19" height="2" fill="#222"/>
<rect x="594" y="291" width="19" height="115" fill="#dadddd"/>
<rect x="608.6" y="291" width="3.8" height="115" fill="#eef0f0"/>
<rect x="606.3" y="296" width="1.3" height="107" fill="#7d8080"/>
<rect x="595.5" y="295.6" width="11" height="16.6" fill="#e3e5e5" stroke="#a9acac" stroke-width="0.6"/>
<rect x="595.5" y="324.5" width="11" height="15.7" fill="#e3e5e5" stroke="#a9acac" stroke-width="0.6"/>
<rect x="595.5" y="353.3" width="11" height="16.7" fill="#e3e5e5" stroke="#a9acac" stroke-width="0.6"/>
<rect x="595.5" y="380.4" width="11" height="21.9" fill="#e3e5e5" stroke="#a9acac" stroke-width="0.6"/>
<rect x="592" y="402" width="16" height="1.2" fill="#444"/>
<rect x="455" y="376" width="142" height="31" fill="#d6dcdb"/>
<rect x="499.5" y="377" width="97" height="1.5" fill="#555"/>
<rect x="457.2" y="379.2" width="24.6" height="17.4" fill="#c3c6c6" stroke="#3a3a3a" stroke-width="0.9"/>
<path d="M460.0,384.2 H464.4 V381.3 H474.0 V384.2 H479.0 V393.8 H460.0 Z" fill="#242424"/>
<rect x="461.7" y="389" width="15.6" height="3.6" fill="#383838"/>
<rect x="484.8" y="379.2" width="24.6" height="17.4" fill="#c3c6c6" stroke="#3a3a3a" stroke-width="0.9"/>
<path d="M487.6,384.2 H492.0 V381.3 H501.6 V384.2 H506.6 V393.8 H487.6 Z" fill="#242424"/>
<rect x="489.3" y="389" width="15.6" height="3.6" fill="#383838"/>
<ellipse cx="519.8" cy="390.2" rx="5.2" ry="4.8" fill="#aba384"/><circle cx="519.8" cy="390.2" r="2.4" fill="#7d7760"/>
<ellipse cx="554.5" cy="390.2" rx="5.2" ry="4.8" fill="#aba384"/><circle cx="554.5" cy="390.2" r="2.4" fill="#7d7760"/>
<rect x="524.6" y="384" width="23.2" height="12.8" rx="1.5" fill="#3c3c3c"/>
<path d="M525.8,385.2 H546.6 L545.4,395 H527 Z" fill="#2d5bd3"/>
<g fill="#1d3a8a"><rect x="528.85" y="386.75" width="1.3" height="1.3" rx="0.6"/><rect x="532.15" y="386.75" width="1.3" height="1.3" rx="0.6"/><rect x="535.45" y="386.75" width="1.3" height="1.3" rx="0.6"/><rect x="538.75" y="386.75" width="1.3" height="1.3" rx="0.6"/><rect x="542.05" y="386.75" width="1.3" height="1.3" rx="0.6"/></g>
<g fill="#1d3a8a"><rect x="528.85" y="389.65" width="1.3" height="1.3" rx="0.6"/><rect x="532.15" y="389.65" width="1.3" height="1.3" rx="0.6"/><rect x="535.45" y="389.65" width="1.3" height="1.3" rx="0.6"/><rect x="538.75" y="389.65" width="1.3" height="1.3" rx="0.6"/><rect x="542.05" y="389.65" width="1.3" height="1.3" rx="0.6"/></g>
<g fill="#1d3a8a"><rect x="530.35" y="392.45" width="1.3" height="1.3" rx="0.6"/><rect x="533.65" y="392.45" width="1.3" height="1.3" rx="0.6"/><rect x="536.95" y="392.45" width="1.3" height="1.3" rx="0.6"/><rect x="540.25" y="392.45" width="1.3" height="1.3" rx="0.6"/></g>
<rect x="514.7" y="377.4" width="50.5" height="2.2" fill="#2a2a2a"/>
<circle cx="572.3" cy="385.2" r="3.2" fill="#eef0f0"/><circle cx="572.3" cy="385.2" r="1.8" fill="#222"/>
<rect x="580.2" y="395.2" width="6.2" height="3" rx="1.4" fill="#9c9a78"/>
<rect x="612" y="291" width="157" height="117" fill="#dde0e0"/>
<rect x="612" y="291" width="154" height="3.5" fill="#e6e9e9"/><rect x="612" y="294.3" width="154" height="1" fill="#9ea1a1"/>
<rect x="615.6" y="295.3" width="150" height="18.5" fill="#e1e4e4" stroke="#b8bbbb" stroke-width="0.6"/>
<rect x="615.6" y="322.5" width="150" height="19" fill="#e1e4e4" stroke="#b8bbbb" stroke-width="0.6"/>
<rect x="615.6" y="351.5" width="150" height="20" fill="#e1e4e4" stroke="#b8bbbb" stroke-width="0.6"/>
<rect x="615.6" y="379.5" width="150" height="20" fill="#e1e4e4" stroke="#b8bbbb" stroke-width="0.6"/>
<g fill="#141414"><rect x="618.70" y="298.50" width="5" height="5" rx="1"/><rect x="626.00" y="298.50" width="5" height="5" rx="1"/><rect x="633.30" y="298.50" width="5" height="5" rx="1"/><rect x="640.60" y="298.50" width="5" height="5" rx="1"/><rect x="647.90" y="298.50" width="5" height="5" rx="1"/><rect x="655.20" y="298.50" width="5" height="5" rx="1"/><rect x="662.50" y="298.50" width="5" height="5" rx="1"/><rect x="669.80" y="298.50" width="5" height="5" rx="1"/><rect x="677.10" y="298.50" width="5" height="5" rx="1"/><rect x="684.40" y="298.50" width="5" height="5" rx="1"/><rect x="691.70" y="298.50" width="5" height="5" rx="1"/><rect x="699.00" y="298.50" width="5" height="5" rx="1"/><rect x="706.30" y="298.50" width="5" height="5" rx="1"/><rect x="713.60" y="298.50" width="5" height="5" rx="1"/><rect x="720.90" y="298.50" width="5" height="5" rx="1"/><rect x="728.20" y="298.50" width="5" height="5" rx="1"/><rect x="735.50" y="298.50" width="5" height="5" rx="1"/><rect x="742.80" y="298.50" width="5" height="5" rx="1"/><rect x="750.10" y="298.50" width="5" height="5" rx="1"/><rect x="757.40" y="298.50" width="5" height="5" rx="1"/></g>
<g fill="#141414"><rect x="618.70" y="305.70" width="5" height="5" rx="1"/><rect x="626.00" y="305.70" width="5" height="5" rx="1"/><rect x="633.30" y="305.70" width="5" height="5" rx="1"/><rect x="640.60" y="305.70" width="5" height="5" rx="1"/><rect x="647.90" y="305.70" width="5" height="5" rx="1"/><rect x="655.20" y="305.70" width="5" height="5" rx="1"/><rect x="662.50" y="305.70" width="5" height="5" rx="1"/><rect x="669.80" y="305.70" width="5" height="5" rx="1"/><rect x="677.10" y="305.70" width="5" height="5" rx="1"/><rect x="684.40" y="305.70" width="5" height="5" rx="1"/><rect x="691.70" y="305.70" width="5" height="5" rx="1"/><rect x="699.00" y="305.70" width="5" height="5" rx="1"/><rect x="706.30" y="305.70" width="5" height="5" rx="1"/><rect x="713.60" y="305.70" width="5" height="5" rx="1"/><rect x="720.90" y="305.70" width="5" height="5" rx="1"/><rect x="728.20" y="305.70" width="5" height="5" rx="1"/><rect x="735.50" y="305.70" width="5" height="5" rx="1"/><rect x="742.80" y="305.70" width="5" height="5" rx="1"/><rect x="750.10" y="305.70" width="5" height="5" rx="1"/><rect x="757.40" y="305.70" width="5" height="5" rx="1"/></g>
<g fill="#141414"><rect x="618.70" y="326.00" width="5" height="5" rx="1"/><rect x="626.00" y="326.00" width="5" height="5" rx="1"/><rect x="633.30" y="326.00" width="5" height="5" rx="1"/><rect x="640.60" y="326.00" width="5" height="5" rx="1"/><rect x="647.90" y="326.00" width="5" height="5" rx="1"/><rect x="655.20" y="326.00" width="5" height="5" rx="1"/><rect x="662.50" y="326.00" width="5" height="5" rx="1"/><rect x="669.80" y="326.00" width="5" height="5" rx="1"/><rect x="677.10" y="326.00" width="5" height="5" rx="1"/><rect x="684.40" y="326.00" width="5" height="5" rx="1"/><rect x="691.70" y="326.00" width="5" height="5" rx="1"/><rect x="699.00" y="326.00" width="5" height="5" rx="1"/><rect x="706.30" y="326.00" width="5" height="5" rx="1"/><rect x="713.60" y="326.00" width="5" height="5" rx="1"/><rect x="720.90" y="326.00" width="5" height="5" rx="1"/><rect x="728.20" y="326.00" width="5" height="5" rx="1"/><rect x="735.50" y="326.00" width="5" height="5" rx="1"/><rect x="742.80" y="326.00" width="5" height="5" rx="1"/><rect x="750.10" y="326.00" width="5" height="5" rx="1"/><rect x="757.40" y="326.00" width="5" height="5" rx="1"/></g>
<g fill="#141414"><rect x="618.70" y="333.50" width="5" height="5" rx="1"/><rect x="626.00" y="333.50" width="5" height="5" rx="1"/><rect x="633.30" y="333.50" width="5" height="5" rx="1"/><rect x="640.60" y="333.50" width="5" height="5" rx="1"/><rect x="647.90" y="333.50" width="5" height="5" rx="1"/><rect x="655.20" y="333.50" width="5" height="5" rx="1"/><rect x="662.50" y="333.50" width="5" height="5" rx="1"/><rect x="669.80" y="333.50" width="5" height="5" rx="1"/><rect x="677.10" y="333.50" width="5" height="5" rx="1"/><rect x="684.40" y="333.50" width="5" height="5" rx="1"/><rect x="691.70" y="333.50" width="5" height="5" rx="1"/><rect x="699.00" y="333.50" width="5" height="5" rx="1"/><rect x="706.30" y="333.50" width="5" height="5" rx="1"/><rect x="713.60" y="333.50" width="5" height="5" rx="1"/><rect x="720.90" y="333.50" width="5" height="5" rx="1"/><rect x="728.20" y="333.50" width="5" height="5" rx="1"/><rect x="735.50" y="333.50" width="5" height="5" rx="1"/><rect x="742.80" y="333.50" width="5" height="5" rx="1"/><rect x="750.10" y="333.50" width="5" height="5" rx="1"/><rect x="757.40" y="333.50" width="5" height="5" rx="1"/></g>
<g fill="#141414"><rect x="618.70" y="355.50" width="5" height="5" rx="1"/><rect x="626.00" y="355.50" width="5" height="5" rx="1"/><rect x="633.30" y="355.50" width="5" height="5" rx="1"/><rect x="640.60" y="355.50" width="5" height="5" rx="1"/><rect x="647.90" y="355.50" width="5" height="5" rx="1"/><rect x="655.20" y="355.50" width="5" height="5" rx="1"/><rect x="662.50" y="355.50" width="5" height="5" rx="1"/><rect x="669.80" y="355.50" width="5" height="5" rx="1"/><rect x="677.10" y="355.50" width="5" height="5" rx="1"/><rect x="684.40" y="355.50" width="5" height="5" rx="1"/><rect x="691.70" y="355.50" width="5" height="5" rx="1"/><rect x="699.00" y="355.50" width="5" height="5" rx="1"/><rect x="706.30" y="355.50" width="5" height="5" rx="1"/><rect x="713.60" y="355.50" width="5" height="5" rx="1"/><rect x="720.90" y="355.50" width="5" height="5" rx="1"/><rect x="728.20" y="355.50" width="5" height="5" rx="1"/><rect x="735.50" y="355.50" width="5" height="5" rx="1"/><rect x="742.80" y="355.50" width="5" height="5" rx="1"/><rect x="750.10" y="355.50" width="5" height="5" rx="1"/><rect x="757.40" y="355.50" width="5" height="5" rx="1"/></g>
<g fill="#141414"><rect x="618.70" y="362.50" width="5" height="5" rx="1"/><rect x="626.00" y="362.50" width="5" height="5" rx="1"/><rect x="633.30" y="362.50" width="5" height="5" rx="1"/><rect x="640.60" y="362.50" width="5" height="5" rx="1"/><rect x="647.90" y="362.50" width="5" height="5" rx="1"/><rect x="655.20" y="362.50" width="5" height="5" rx="1"/><rect x="662.50" y="362.50" width="5" height="5" rx="1"/><rect x="669.80" y="362.50" width="5" height="5" rx="1"/><rect x="677.10" y="362.50" width="5" height="5" rx="1"/><rect x="684.40" y="362.50" width="5" height="5" rx="1"/><rect x="691.70" y="362.50" width="5" height="5" rx="1"/><rect x="699.00" y="362.50" width="5" height="5" rx="1"/><rect x="706.30" y="362.50" width="5" height="5" rx="1"/><rect x="713.60" y="362.50" width="5" height="5" rx="1"/><rect x="720.90" y="362.50" width="5" height="5" rx="1"/><rect x="728.20" y="362.50" width="5" height="5" rx="1"/><rect x="735.50" y="362.50" width="5" height="5" rx="1"/><rect x="742.80" y="362.50" width="5" height="5" rx="1"/><rect x="750.10" y="362.50" width="5" height="5" rx="1"/><rect x="757.40" y="362.50" width="5" height="5" rx="1"/></g>
<g fill="#141414"><rect x="618.70" y="383.50" width="5" height="5" rx="1"/><rect x="626.00" y="383.50" width="5" height="5" rx="1"/><rect x="633.30" y="383.50" width="5" height="5" rx="1"/><rect x="640.60" y="383.50" width="5" height="5" rx="1"/><rect x="647.90" y="383.50" width="5" height="5" rx="1"/><rect x="655.20" y="383.50" width="5" height="5" rx="1"/><rect x="662.50" y="383.50" width="5" height="5" rx="1"/><rect x="669.80" y="383.50" width="5" height="5" rx="1"/><rect x="677.10" y="383.50" width="5" height="5" rx="1"/><rect x="684.40" y="383.50" width="5" height="5" rx="1"/><rect x="691.70" y="383.50" width="5" height="5" rx="1"/><rect x="699.00" y="383.50" width="5" height="5" rx="1"/><rect x="706.30" y="383.50" width="5" height="5" rx="1"/><rect x="713.60" y="383.50" width="5" height="5" rx="1"/><rect x="720.90" y="383.50" width="5" height="5" rx="1"/><rect x="728.20" y="383.50" width="5" height="5" rx="1"/><rect x="735.50" y="383.50" width="5" height="5" rx="1"/><rect x="742.80" y="383.50" width="5" height="5" rx="1"/><rect x="750.10" y="383.50" width="5" height="5" rx="1"/><rect x="757.40" y="383.50" width="5" height="5" rx="1"/></g>
<g fill="#141414"><rect x="618.70" y="390.20" width="5" height="5" rx="1"/><rect x="626.00" y="390.20" width="5" height="5" rx="1"/><rect x="633.30" y="390.20" width="5" height="5" rx="1"/><rect x="640.60" y="390.20" width="5" height="5" rx="1"/><rect x="647.90" y="390.20" width="5" height="5" rx="1"/><rect x="655.20" y="390.20" width="5" height="5" rx="1"/><rect x="662.50" y="390.20" width="5" height="5" rx="1"/><rect x="669.80" y="390.20" width="5" height="5" rx="1"/><rect x="677.10" y="390.20" width="5" height="5" rx="1"/><rect x="684.40" y="390.20" width="5" height="5" rx="1"/><rect x="691.70" y="390.20" width="5" height="5" rx="1"/><rect x="699.00" y="390.20" width="5" height="5" rx="1"/><rect x="706.30" y="390.20" width="5" height="5" rx="1"/><rect x="713.60" y="390.20" width="5" height="5" rx="1"/><rect x="720.90" y="390.20" width="5" height="5" rx="1"/><rect x="728.20" y="390.20" width="5" height="5" rx="1"/><rect x="735.50" y="390.20" width="5" height="5" rx="1"/><rect x="742.80" y="390.20" width="5" height="5" rx="1"/><rect x="750.10" y="390.20" width="5" height="5" rx="1"/><rect x="757.40" y="390.20" width="5" height="5" rx="1"/></g>
<rect x="612" y="315" width="154" height="6" fill="#e9ebeb"/>
<rect x="624" y="316.1" width="130" height="3.8" rx="1.9" fill="#f6f6f6" stroke="#b5b8b8" stroke-width="0.6"/>
<rect x="634" y="317.1" width="26" height="1.8" fill="#333"/><rect x="670" y="317.1" width="26" height="1.8" fill="#333"/><rect x="706" y="317.1" width="26" height="1.8" fill="#333"/>
<rect x="612" y="344" width="154" height="6" fill="#e9ebeb"/>
<rect x="624" y="345.1" width="130" height="3.8" rx="1.9" fill="#f6f6f6" stroke="#b5b8b8" stroke-width="0.6"/>
<rect x="634" y="346.1" width="26" height="1.8" fill="#333"/><rect x="670" y="346.1" width="26" height="1.8" fill="#333"/><rect x="706" y="346.1" width="26" height="1.8" fill="#333"/>
<rect x="612" y="372" width="154" height="6" fill="#e7e9e9"/>
<rect x="624" y="373.2" width="130" height="3.6" rx="1.8" fill="#f4f4f4" stroke="#bfc2c2" stroke-width="0.6"/>
<rect x="612" y="399.5" width="154" height="3.5" fill="#e2e5e5"/>
<rect x="612" y="403" width="154" height="1.3" fill="#5a5d5d"/>
<rect x="612" y="404.3" width="154" height="4.5" fill="#dfe2e2"/>
<rect x="620" y="404" width="10" height="5" fill="#c0c3c3"/><rect x="740" y="404" width="10" height="5" fill="#c0c3c3"/>
<rect x="766" y="291" width="3" height="118" fill="#aeb1b1"/>
<path d="M768,295.4 H789 V290 H799 V408 H768 Z" fill="#e9ebeb"/>
<rect x="776" y="293.5" width="12" height="2" fill="#333"/>
<g fill="#1c1c1c"><rect x="773.60" y="298.40" width="2.4" height="2.4" rx="0.3"/><rect x="777.97" y="298.40" width="2.4" height="2.4" rx="0.3"/><rect x="782.34" y="298.40" width="2.4" height="2.4" rx="0.3"/><rect x="786.71" y="298.40" width="2.4" height="2.4" rx="0.3"/><rect x="791.08" y="298.40" width="2.4" height="2.4" rx="0.3"/><rect x="773.60" y="302.77" width="2.4" height="2.4" rx="0.3"/><rect x="777.97" y="302.77" width="2.4" height="2.4" rx="0.3"/><rect x="782.34" y="302.77" width="2.4" height="2.4" rx="0.3"/><rect x="786.71" y="302.77" width="2.4" height="2.4" rx="0.3"/><rect x="791.08" y="302.77" width="2.4" height="2.4" rx="0.3"/><rect x="773.60" y="307.14" width="2.4" height="2.4" rx="0.3"/><rect x="777.97" y="307.14" width="2.4" height="2.4" rx="0.3"/><rect x="782.34" y="307.14" width="2.4" height="2.4" rx="0.3"/><rect x="786.71" y="307.14" width="2.4" height="2.4" rx="0.3"/><rect x="791.08" y="307.14" width="2.4" height="2.4" rx="0.3"/><rect x="773.60" y="311.51" width="2.4" height="2.4" rx="0.3"/><rect x="777.97" y="311.51" width="2.4" height="2.4" rx="0.3"/><rect x="782.34" y="311.51" width="2.4" height="2.4" rx="0.3"/><rect x="786.71" y="311.51" width="2.4" height="2.4" rx="0.3"/><rect x="791.08" y="311.51" width="2.4" height="2.4" rx="0.3"/><rect x="773.60" y="315.88" width="2.4" height="2.4" rx="0.3"/><rect x="777.97" y="315.88" width="2.4" height="2.4" rx="0.3"/><rect x="782.34" y="315.88" width="2.4" height="2.4" rx="0.3"/><rect x="786.71" y="315.88" width="2.4" height="2.4" rx="0.3"/><rect x="791.08" y="315.88" width="2.4" height="2.4" rx="0.3"/><rect x="773.60" y="320.25" width="2.4" height="2.4" rx="0.3"/><rect x="777.97" y="320.25" width="2.4" height="2.4" rx="0.3"/><rect x="782.34" y="320.25" width="2.4" height="2.4" rx="0.3"/><rect x="786.71" y="320.25" width="2.4" height="2.4" rx="0.3"/><rect x="791.08" y="320.25" width="2.4" height="2.4" rx="0.3"/><rect x="773.60" y="324.62" width="2.4" height="2.4" rx="0.3"/><rect x="777.97" y="324.62" width="2.4" height="2.4" rx="0.3"/><rect x="782.34" y="324.62" width="2.4" height="2.4" rx="0.3"/><rect x="786.71" y="324.62" width="2.4" height="2.4" rx="0.3"/><rect x="791.08" y="324.62" width="2.4" height="2.4" rx="0.3"/><rect x="773.60" y="328.99" width="2.4" height="2.4" rx="0.3"/><rect x="777.97" y="328.99" width="2.4" height="2.4" rx="0.3"/><rect x="782.34" y="328.99" width="2.4" height="2.4" rx="0.3"/><rect x="786.71" y="328.99" width="2.4" height="2.4" rx="0.3"/><rect x="791.08" y="328.99" width="2.4" height="2.4" rx="0.3"/><rect x="773.60" y="333.36" width="2.4" height="2.4" rx="0.3"/><rect x="777.97" y="333.36" width="2.4" height="2.4" rx="0.3"/><rect x="782.34" y="333.36" width="2.4" height="2.4" rx="0.3"/><rect x="786.71" y="333.36" width="2.4" height="2.4" rx="0.3"/><rect x="791.08" y="333.36" width="2.4" height="2.4" rx="0.3"/><rect x="773.60" y="337.73" width="2.4" height="2.4" rx="0.3"/><rect x="777.97" y="337.73" width="2.4" height="2.4" rx="0.3"/><rect x="782.34" y="337.73" width="2.4" height="2.4" rx="0.3"/><rect x="786.71" y="337.73" width="2.4" height="2.4" rx="0.3"/><rect x="791.08" y="337.73" width="2.4" height="2.4" rx="0.3"/><rect x="773.60" y="342.10" width="2.4" height="2.4" rx="0.3"/><rect x="777.97" y="342.10" width="2.4" height="2.4" rx="0.3"/><rect x="782.34" y="342.10" width="2.4" height="2.4" rx="0.3"/><rect x="786.71" y="342.10" width="2.4" height="2.4" rx="0.3"/><rect x="791.08" y="342.10" width="2.4" height="2.4" rx="0.3"/><rect x="773.60" y="346.47" width="2.4" height="2.4" rx="0.3"/><rect x="777.97" y="346.47" width="2.4" height="2.4" rx="0.3"/><rect x="782.34" y="346.47" width="2.4" height="2.4" rx="0.3"/><rect x="786.71" y="346.47" width="2.4" height="2.4" rx="0.3"/><rect x="791.08" y="346.47" width="2.4" height="2.4" rx="0.3"/><rect x="773.60" y="350.84" width="2.4" height="2.4" rx="0.3"/><rect x="777.97" y="350.84" width="2.4" height="2.4" rx="0.3"/><rect x="782.34" y="350.84" width="2.4" height="2.4" rx="0.3"/><rect x="786.71" y="350.84" width="2.4" height="2.4" rx="0.3"/><rect x="791.08" y="350.84" width="2.4" height="2.4" rx="0.3"/><rect x="773.60" y="355.21" width="2.4" height="2.4" rx="0.3"/><rect x="777.97" y="355.21" width="2.4" height="2.4" rx="0.3"/><rect x="782.34" y="355.21" width="2.4" height="2.4" rx="0.3"/><rect x="786.71" y="355.21" width="2.4" height="2.4" rx="0.3"/><rect x="791.08" y="355.21" width="2.4" height="2.4" rx="0.3"/><rect x="773.60" y="359.58" width="2.4" height="2.4" rx="0.3"/><rect x="777.97" y="359.58" width="2.4" height="2.4" rx="0.3"/><rect x="782.34" y="359.58" width="2.4" height="2.4" rx="0.3"/><rect x="786.71" y="359.58" width="2.4" height="2.4" rx="0.3"/><rect x="791.08" y="359.58" width="2.4" height="2.4" rx="0.3"/><rect x="773.60" y="363.95" width="2.4" height="2.4" rx="0.3"/><rect x="777.97" y="363.95" width="2.4" height="2.4" rx="0.3"/><rect x="782.34" y="363.95" width="2.4" height="2.4" rx="0.3"/><rect x="786.71" y="363.95" width="2.4" height="2.4" rx="0.3"/><rect x="791.08" y="363.95" width="2.4" height="2.4" rx="0.3"/><rect x="773.60" y="368.32" width="2.4" height="2.4" rx="0.3"/><rect x="777.97" y="368.32" width="2.4" height="2.4" rx="0.3"/><rect x="782.34" y="368.32" width="2.4" height="2.4" rx="0.3"/><rect x="786.71" y="368.32" width="2.4" height="2.4" rx="0.3"/><rect x="791.08" y="368.32" width="2.4" height="2.4" rx="0.3"/><rect x="773.60" y="372.69" width="2.4" height="2.4" rx="0.3"/><rect x="777.97" y="372.69" width="2.4" height="2.4" rx="0.3"/><rect x="782.34" y="372.69" width="2.4" height="2.4" rx="0.3"/><rect x="786.71" y="372.69" width="2.4" height="2.4" rx="0.3"/><rect x="791.08" y="372.69" width="2.4" height="2.4" rx="0.3"/><rect x="773.60" y="377.06" width="2.4" height="2.4" rx="0.3"/><rect x="777.97" y="377.06" width="2.4" height="2.4" rx="0.3"/><rect x="782.34" y="377.06" width="2.4" height="2.4" rx="0.3"/><rect x="786.71" y="377.06" width="2.4" height="2.4" rx="0.3"/><rect x="791.08" y="377.06" width="2.4" height="2.4" rx="0.3"/><rect x="773.60" y="381.43" width="2.4" height="2.4" rx="0.3"/><rect x="777.97" y="381.43" width="2.4" height="2.4" rx="0.3"/><rect x="782.34" y="381.43" width="2.4" height="2.4" rx="0.3"/><rect x="786.71" y="381.43" width="2.4" height="2.4" rx="0.3"/><rect x="791.08" y="381.43" width="2.4" height="2.4" rx="0.3"/><rect x="773.60" y="385.80" width="2.4" height="2.4" rx="0.3"/><rect x="777.97" y="385.80" width="2.4" height="2.4" rx="0.3"/><rect x="782.34" y="385.80" width="2.4" height="2.4" rx="0.3"/><rect x="786.71" y="385.80" width="2.4" height="2.4" rx="0.3"/><rect x="791.08" y="385.80" width="2.4" height="2.4" rx="0.3"/><rect x="773.60" y="390.17" width="2.4" height="2.4" rx="0.3"/><rect x="777.97" y="390.17" width="2.4" height="2.4" rx="0.3"/><rect x="782.34" y="390.17" width="2.4" height="2.4" rx="0.3"/><rect x="786.71" y="390.17" width="2.4" height="2.4" rx="0.3"/><rect x="791.08" y="390.17" width="2.4" height="2.4" rx="0.3"/><rect x="773.60" y="394.54" width="2.4" height="2.4" rx="0.3"/><rect x="777.97" y="394.54" width="2.4" height="2.4" rx="0.3"/><rect x="782.34" y="394.54" width="2.4" height="2.4" rx="0.3"/><rect x="786.71" y="394.54" width="2.4" height="2.4" rx="0.3"/><rect x="791.08" y="394.54" width="2.4" height="2.4" rx="0.3"/><rect x="773.60" y="398.91" width="2.4" height="2.4" rx="0.3"/><rect x="777.97" y="398.91" width="2.4" height="2.4" rx="0.3"/><rect x="782.34" y="398.91" width="2.4" height="2.4" rx="0.3"/><rect x="786.71" y="398.91" width="2.4" height="2.4" rx="0.3"/><rect x="791.08" y="398.91" width="2.4" height="2.4" rx="0.3"/><rect x="773.60" y="403.28" width="2.4" height="2.4" rx="0.3"/><rect x="777.97" y="403.28" width="2.4" height="2.4" rx="0.3"/><rect x="782.34" y="403.28" width="2.4" height="2.4" rx="0.3"/><rect x="786.71" y="403.28" width="2.4" height="2.4" rx="0.3"/><rect x="791.08" y="403.28" width="2.4" height="2.4" rx="0.3"/></g>
<rect x="799" y="288" width="3.5" height="124" fill="#c5c8c8"/>
<rect x="800.5" y="286" width="1.5" height="126" fill="#8d9090"/>
<rect x="802.5" y="290.5" width="3" height="124" fill="#fff"/>
<rect x="342" y="406.8" width="250" height="3.6" fill="#a9b0ae"/>
<rect x="342" y="410.4" width="250" height="1.8" fill="#d0d5d4"/>
<rect x="164.5" y="412.2" width="637.5" height="1.5" fill="#8c9090"/>
<circle cx="546.7" cy="304.2" r="11.30" fill="#f3c9c9"/><circle cx="546.7" cy="304.2" r="10.7" fill="#b8161b"/><circle cx="546.7" cy="304.2" r="9.80" fill="#d6242a"/><circle cx="546.7" cy="304.2" r="7.7" fill="#0a0a0a"/><text x="546.7" y="308.52" font-size="12" font-weight="bold" text-anchor="middle" style="fill:#fff">5</text>
<circle cx="546.7" cy="333.5" r="11.30" fill="#f3c9c9"/><circle cx="546.7" cy="333.5" r="10.7" fill="#b8161b"/><circle cx="546.7" cy="333.5" r="9.80" fill="#d6242a"/><circle cx="546.7" cy="333.5" r="7.7" fill="#0a0a0a"/><text x="546.7" y="337.82" font-size="12" font-weight="bold" text-anchor="middle" style="fill:#fff">6</text>
<circle cx="687.2" cy="304.6" r="11.40" fill="#f3c9c9"/><circle cx="687.2" cy="304.6" r="10.8" fill="#b8161b"/><circle cx="687.2" cy="304.6" r="9.90" fill="#d6242a"/><circle cx="687.2" cy="304.6" r="7.6" fill="#0a0a0a"/><text x="687.2" y="308.92" font-size="12" font-weight="bold" text-anchor="middle" style="fill:#fff">1</text>
<circle cx="687.2" cy="363.6" r="11.40" fill="#f3c9c9"/><circle cx="687.2" cy="363.6" r="10.8" fill="#b8161b"/><circle cx="687.2" cy="363.6" r="9.90" fill="#d6242a"/><circle cx="687.2" cy="363.6" r="7.6" fill="#0a0a0a"/><text x="687.2" y="367.92" font-size="12" font-weight="bold" text-anchor="middle" style="fill:#fff">3</text>
<g fill="#eeb92b"><rect x="416" y="233" width="3" height="121"/><rect x="150" y="350.5" width="24" height="3"/><rect x="150" y="350.5" width="3" height="80.5"/><rect x="344.5" y="388.5" width="23.5" height="3"/><rect x="344" y="388.5" width="3" height="48"/><rect x="416" y="397" width="3" height="68"/><rect x="483" y="397" width="3" height="56.5"/><rect x="483" y="450.5" width="32.5" height="3"/><rect x="537" y="397" width="3" height="30.5"/><rect x="537" y="424.5" width="23" height="3"/></g>
<text x="481" y="90" font-size="16" font-style="italic" text-anchor="middle">(Rear View – System)</text>
<text x="329" y="227" font-size="16">Dedicated BMC LAN Port</text>
<text x="60.2" y="456" font-size="15.5" word-spacing="2.2">Redundant Titanium Level</text>
<text x="96.5" y="474.8" font-size="15.8">Power Supplies</text>
<text x="305" y="457.5" font-size="16">Serial Port</text>
<text x="339.5" y="488.2" font-size="16">2 USB 3.2 Gen1 Ports</text>
<text x="564.5" y="433.5" font-size="16">VGA Port</text>
<text x="526.5" y="457.5" font-size="16">2 RJ45 1GbE LAN Ports</text>
<rect x="303.5" y="553" width="341" height="27.5" fill="#cccccc"/>
<rect x="303.5" y="610" width="341" height="28" fill="#cccccc"/>
<g fill="#222"><rect x="302.8" y="524.3" width="342.4" height="1.1"/><rect x="302.8" y="551" width="342.4" height="2.2"/><rect x="302.8" y="580.2" width="342.4" height="1"/><rect x="302.8" y="609.2" width="342.4" height="1"/><rect x="302.8" y="637.8" width="342.4" height="1"/><rect x="302.8" y="666.6" width="342.4" height="1.1"/><rect x="302.8" y="524.3" width="1.1" height="343.4" style="height:143.4px"/><rect x="340.8" y="524.3" width="1.1" height="143.4"/><rect x="644" y="524.3" width="1.3" height="143.4"/></g>
<text x="352.6" y="542.7" font-size="13.4" font-weight="bold" textLength="97.5" lengthAdjust="spacingAndGlyphs">Slot Description</text>
<circle cx="323.1" cy="565.8" r="11.60" fill="#f3c9c9"/><circle cx="323.1" cy="565.8" r="11" fill="#b8161b"/><circle cx="323.1" cy="565.8" r="10.10" fill="#d6242a"/><circle cx="323.1" cy="565.8" r="8.1" fill="#0a0a0a"/><text x="323.1" y="569.58" font-size="10.5" font-weight="bold" text-anchor="middle" style="fill:#fff">1</text>
<text x="351.4" y="570.4" font-size="13.5" word-spacing="1.2" textLength="111" lengthAdjust="spacingAndGlyphs">PCIe 5.0 x16 FHFL</text>
<circle cx="323.1" cy="595.4" r="11.60" fill="#f3c9c9"/><circle cx="323.1" cy="595.4" r="11" fill="#b8161b"/><circle cx="323.1" cy="595.4" r="10.10" fill="#d6242a"/><circle cx="323.1" cy="595.4" r="8.1" fill="#0a0a0a"/><text x="323.1" y="599.18" font-size="10.5" font-weight="bold" text-anchor="middle" style="fill:#fff">3</text>
<text x="351.4" y="600.0" font-size="13.5" word-spacing="1.2" textLength="111" lengthAdjust="spacingAndGlyphs">PCIe 5.0 x16 FHFL</text>
<circle cx="323.1" cy="623.9" r="11.60" fill="#f3c9c9"/><circle cx="323.1" cy="623.9" r="11" fill="#b8161b"/><circle cx="323.1" cy="623.9" r="10.10" fill="#d6242a"/><circle cx="323.1" cy="623.9" r="8.1" fill="#0a0a0a"/><text x="323.1" y="627.68" font-size="10.5" font-weight="bold" text-anchor="middle" style="fill:#fff">5</text>
<text x="351.4" y="628.5" font-size="13.5" word-spacing="1.2" textLength="87.7" lengthAdjust="spacingAndGlyphs">PCIe 5.0 x8 LP</text>
<circle cx="323.1" cy="652" r="11.60" fill="#f3c9c9"/><circle cx="323.1" cy="652" r="11" fill="#b8161b"/><circle cx="323.1" cy="652" r="10.10" fill="#d6242a"/><circle cx="323.1" cy="652" r="8.1" fill="#0a0a0a"/><text x="323.1" y="655.78" font-size="10.5" font-weight="bold" text-anchor="middle" style="fill:#fff">6</text>
<text x="351.4" y="656.6" font-size="13.5" word-spacing="1.2" textLength="87.7" lengthAdjust="spacingAndGlyphs">PCIe 5.0 x8 LP</text>
</svg>
</body></html>
